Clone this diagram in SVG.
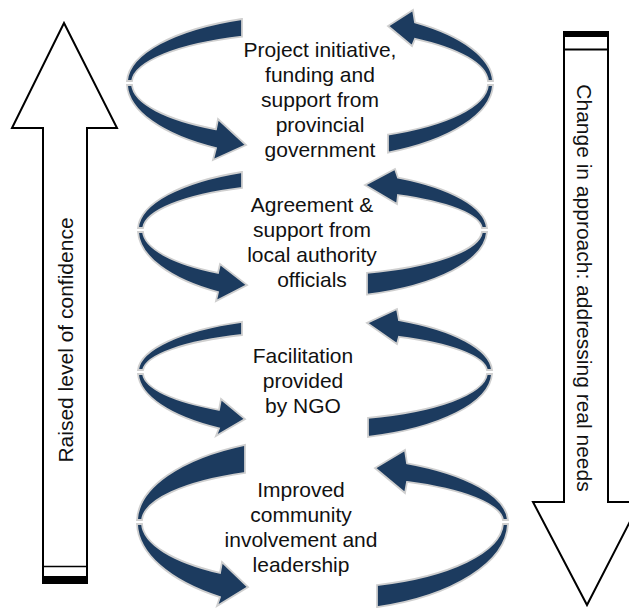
<svg xmlns="http://www.w3.org/2000/svg" width="629" height="608" viewBox="0 0 629 608">
  <style>
    .lbl { font-family: "Liberation Sans", Arial, sans-serif; font-size: 21px; fill: #111; text-anchor: middle; }
    .rib { fill: #1c3b5f; stroke: #cfcfcf; stroke-width: 1.8; stroke-linejoin: miter; }
    .big { fill: #fff; stroke: #000; stroke-width: 2; stroke-linejoin: miter; }
  </style>
  <rect width="629" height="608" fill="#fff"/>

  <g id="arrow-confidence">
    <path class="big" d="M64,23 L117,128 L87,128 L87,583 L43,583 L43,128 L12,128 Z"/>
    <line x1="43" y1="566.5" x2="87" y2="566.5" stroke="#000" stroke-width="1.5"/>
    <rect x="43" y="576" width="44" height="7" fill="#000"/>
    <text class="lbl" transform="translate(73,340) rotate(-90)">Raised level of confidence</text>
  </g>

  <g id="arrow-approach">
    <path class="big" d="M564,32 L608,32 L608,502 L640,502 L587,605 L533,502 L564,502 Z"/>
    <rect x="564" y="31" width="44" height="6" fill="#000"/>
    <line x1="564" y1="49.5" x2="608" y2="49.5" stroke="#000" stroke-width="2"/>
    <text class="lbl" transform="translate(577,288) rotate(90)">Change in approach: addressing real needs</text>
  </g>

  <g id="connectors">
    <!-- loop 1 -->
    <path class="rib" d="M127,81 A183,69 0 0 1 242,19 L242,36.6 A178,50 0 0 0 132,81 Z"/>
    <path class="rib" d="M493,81 A183,74 0 0 0 415,22.4 L413,10 L388,26 L412,46 L415,38.8 A178,54 0 0 1 488,81 Z"/>
    <path class="rib" d="M127,85 A183,76 0 0 0 216,148.2 L213,160 L246,145 L218,119 L216,129.3 A178,54 0 0 1 132,85 Z"/>
    <path class="rib" d="M388,134.6 L388,152.7 A183,77 0 0 0 493,85 L488,85 A178,57 0 0 1 388,134.6 Z"/>
    <!-- loop 2 -->
    <path class="rib" d="M138,228 A174.5,63.4 0 0 1 242,172 L242,187.9 A169.5,46 0 0 0 143,228 Z"/>
    <path class="rib" d="M487,228 A174.5,60 0 0 0 398,177.7 L395,169 L365,185 L397,204 L398,195.1 A169.5,40 0 0 1 482,228 Z"/>
    <path class="rib" d="M138,232 A174.5,74 0 0 0 218,292.2 L216,301 L247,285 L220,264 L218,272.9 A169.5,51 0 0 1 143,232 Z"/>
    <path class="rib" d="M367,272.8 L367,294.6 A174.5,68 0 0 0 487,232 L482,232 A169.5,45 0 0 1 367,272.8 Z"/>
    <!-- loop 3 -->
    <path class="rib" d="M138,370 A177,55 0 0 1 242,321.9 L242,335 A172,40.6 0 0 0 143,370 Z"/>
    <path class="rib" d="M492,370 A177,59 0 0 0 399,320.1 L397,309 L367,323 L397,344 L399,336.8 A172,40 0 0 1 487,370 Z"/>
    <path class="rib" d="M138,374 A177,67 0 0 0 219,428.3 L216,436 L245,419 L221,399 L219,409.8 A172,45 0 0 1 143,374 Z"/>
    <path class="rib" d="M368,417.8 L368,436.9 A177,68 0 0 0 492,374 L487,374 A172,48 0 0 1 368,417.8 Z"/>
    <!-- loop 4 -->
    <path class="rib" d="M137,520 A185.5,85 0 0 1 245,444.8 L245,472.9 A180.5,54 0 0 0 142,520 Z"/>
    <path class="rib" d="M508,520 A185.5,66 0 0 0 407,463.3 L405,450 L375,468 L405,493 L407,481.9 A180.5,45 0 0 1 503,520 Z"/>
    <path class="rib" d="M137,524 A185.5,90 0 0 0 220,597.1 L217,606 L248,587 L222,562 L220,572.9 A180.5,61 0 0 1 142,524 Z"/>
    <path class="rib" d="M377,585.1 L377,607.1 A185.5,89 0 0 0 508,524 L503,524 A180.5,66 0 0 1 377,585.1 Z"/>
  </g>

  <g id="node-provincial">
    <text class="lbl" x="320" y="57">Project initiative,</text>
    <text class="lbl" x="320" y="82">funding and</text>
    <text class="lbl" x="320" y="107">support from</text>
    <text class="lbl" x="320" y="132">provincial</text>
    <text class="lbl" x="320" y="157">government</text>
  </g>

  <g id="node-local-authority">
    <text class="lbl" x="312" y="212">Agreement &amp;</text>
    <text class="lbl" x="312" y="237">support from</text>
    <text class="lbl" x="312" y="262">local authority</text>
    <text class="lbl" x="312" y="287">officials</text>
  </g>

  <g id="node-ngo">
    <text class="lbl" x="303" y="363">Facilitation</text>
    <text class="lbl" x="303" y="388">provided</text>
    <text class="lbl" x="303" y="413">by NGO</text>
  </g>

  <g id="node-community">
    <text class="lbl" x="301" y="497">Improved</text>
    <text class="lbl" x="301" y="522">community</text>
    <text class="lbl" x="301" y="547">involvement and</text>
    <text class="lbl" x="301" y="572">leadership</text>
  </g>
</svg>
